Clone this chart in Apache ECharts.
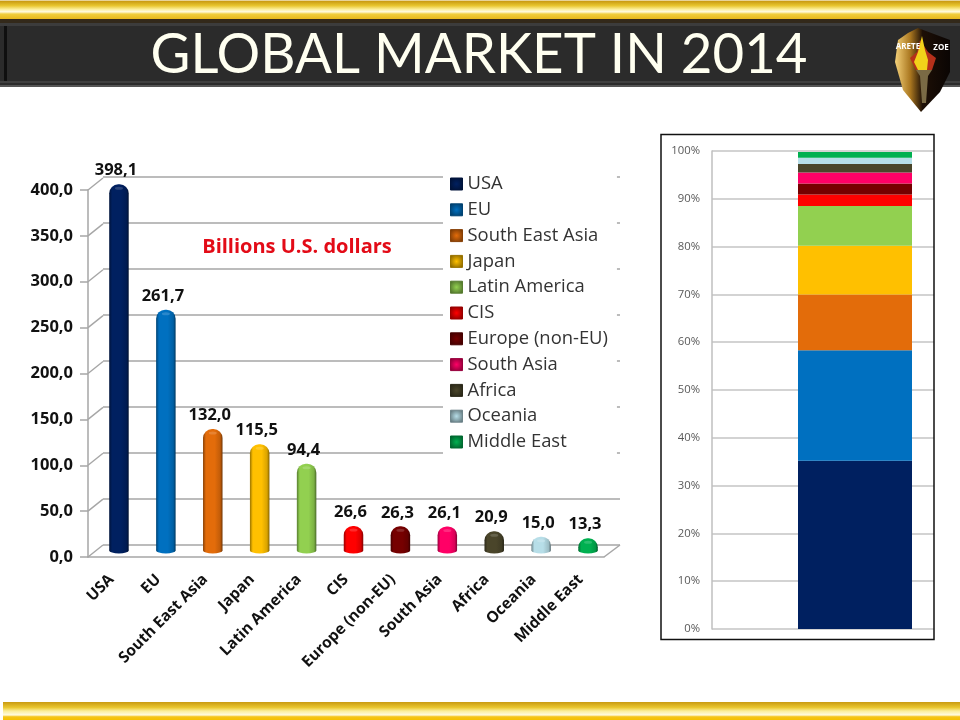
<!DOCTYPE html>
<html><head><meta charset="utf-8">
<style>html,body{margin:0;padding:0;background:#fff}#c{width:960px;height:720px}</style>
<script src="https://cdn.jsdelivr.net/npm/echarts@6/dist/echarts.min.js"></script>
</head><body><div id="c"></div>
<script>
const categories = ['USA','EU','South East Asia','Japan','Latin America','CIS','Europe (non-EU)','South Asia','Africa','Oceania','Middle East'];
const marketValues = [398.1,261.7,132.0,115.5,94.4,26.6,26.3,26.1,20.9,15.0,13.3];
const sharePercent = [35.2,23.1,11.7,10.2,8.3,2.4,2.3,2.3,1.8,1.3,1.2];
const colors = ['#002060','#0070C0','#E36C0A','#FFC000','#92D050','#FF0000','#760000','#FF0066','#4A452A','#B7DEE8','#00B050'];
const wallTicks = [0,50,100,150,200,250,300,350,400];
const titleText = 'GLOBAL MARKET IN 2014';
const unitText = 'Billions U.S. dollars';

const FONT = '"Open Sans",sans-serif';
function shade(hex,k){
  const n=parseInt(hex.slice(1),16);
  const f=c=>Math.round(k<1?c*k:c+(255-c)*(k-1));
  return 'rgb('+f(n>>16&255)+','+f(n>>8&255)+','+f(n&255)+')';
}
function lin(stops,vertical){
  return new echarts.graphic.LinearGradient(0,0,vertical?0:1,vertical?1:0,
    stops.map(s=>({offset:s[0],color:s[1]})));
}
const barFill=i=>lin([[0,shade(colors[i],0.6)],[0.15,colors[i]],[0.6,colors[i]],[0.88,shade(colors[i],0.85)],[1,shade(colors[i],0.5)]]);
const comma=v=>v.toFixed(1).replace('.',',');
const chart=echarts.init(document.getElementById('c'),null,{renderer:'canvas'});

const goldTop=lin([[0,'#fff'],[0.06,'#c99a12'],[0.3,'#e9c62f'],[0.5,'#fdf0a0'],[0.62,'#fffbe0'],[0.74,'#f0cf3c'],[1,'#e8b81c']],true);
const goldBot=lin([[0,'#c99a12'],[0.3,'#e9c62f'],[0.5,'#fbee9a'],[0.72,'#fffbe0'],[0.82,'#f5c51a'],[1,'#f5c000']],true);
const shieldFill=lin([[0,'#f5d27a'],[0.28,'#a9761f'],[0.5,'#1d0f06'],[1,'#0a0503']]);

chart.setOption({
  animation:false,
  backgroundColor:'#fff',
  legend:{
    left:443,top:172,orient:'vertical',
    data:categories.map((n,i)=>({name:n,itemStyle:{
      color:new echarts.graphic.RadialGradient(0.5,0.5,0.7,[{offset:0,color:colors[i]},{offset:1,color:shade(colors[i],0.45)}]),
      borderColor:shade(colors[i],0.6),borderWidth:1}})),
    icon:'rect',itemWidth:12,itemHeight:12,itemGap:7.8,
    backgroundColor:'#fff',padding:[3,9,3,7],
    textStyle:{fontFamily:FONT,fontSize:18.4,color:'#333',padding:[0,0,0,0],lineHeight:17},
    selectedMode:false
  },
  grid:[
    {left:103,top:177,width:517,height:368,outerBoundsMode:'none'},
    {left:95.5,top:182.5,width:516,height:368,outerBoundsMode:'none'},
    {left:88,top:190,width:516,height:367,outerBoundsMode:'none'},
    {left:712,top:151,width:286,height:478,outerBoundsMode:'none'}
  ],
  xAxis:[
    {gridIndex:0,type:'category',data:categories,show:false},
    {gridIndex:1,type:'category',data:categories,show:false},
    {gridIndex:2,type:'category',data:categories,
     axisLine:{lineStyle:{color:'#a6a6a6',width:1.5}},
     axisTick:{length:5,lineStyle:{color:'#a6a6a6'},alignWithLabel:false},
     axisLabel:{rotate:45,interval:0,margin:20,fontFamily:FONT,fontWeight:'bold',fontSize:15.5,color:'#111'}},
    {gridIndex:3,type:'category',data:['2014'],axisLine:{show:false},axisTick:{show:false},axisLabel:{show:false}}
  ],
  yAxis:[
    {gridIndex:0,type:'value',min:0,max:400,interval:50,axisLine:{show:false},axisTick:{show:false},axisLabel:{show:false},
     splitLine:{lineStyle:{color:'#a6a6a6',width:1.5}}},
    {gridIndex:1,type:'value',min:0,max:400,show:false,splitLine:{show:false}},
    {gridIndex:2,type:'value',min:0,max:400,interval:50,splitLine:{show:false},
     axisLine:{show:true,lineStyle:{color:'#a6a6a6',width:1.5}},
     axisTick:{show:true,length:8,lineStyle:{color:'#a6a6a6',width:1.5}},
     axisLabel:{margin:15,formatter:v=>comma(v),fontFamily:FONT,fontWeight:'bold',fontSize:16.5,color:'#111'}},
    {gridIndex:3,type:'value',min:0,max:100,interval:10,
     axisLine:{show:true,lineStyle:{color:'#bfbfbf',width:1.5}},
     axisTick:{show:false},
     axisLabel:{margin:12,formatter:'{value}%',fontFamily:FONT,fontSize:11.3,color:'#595959'},
     splitLine:{lineStyle:{color:'#c4c4c4',width:1.5}}}
  ],
  series:[
    {type:'custom',name:'wall',xAxisIndex:2,yAxisIndex:2,clip:false,silent:true,z:1,
     data:wallTicks.map(v=>[0,v]),
     renderItem:(p,api)=>{
       const y=api.coord([0,api.value(1)])[1],x=p.coordSys.x;
       const shape=[{type:'line',shape:{x1:x,y1:y,x2:x+15,y2:y-12},style:{stroke:'#a6a6a6',lineWidth:1.5}}];
       if(api.value(1)===0){const r=x+p.coordSys.width;
         shape.push({type:'line',shape:{x1:r,y1:y,x2:r+16,y2:y-12},style:{stroke:'#a6a6a6',lineWidth:1.5}});}
       return {type:'group',children:shape};
     }},
    {type:'scatter',name:'base',xAxisIndex:1,yAxisIndex:1,silent:true,z:2,symbol:'circle',symbolSize:[19.5,6],clip:false,
     data:marketValues.map((v,i)=>({value:0,itemStyle:{color:barFill(i),opacity:1}}))},
    {type:'bar',name:unitText,xAxisIndex:1,yAxisIndex:1,barWidth:19.5,z:3,
     data:marketValues.map((v,i)=>({value:v,itemStyle:{color:barFill(i),borderRadius:[9,9,0,0]}})),
     label:{show:true,position:'top',distance:5,offset:[-3,0],formatter:p=>comma(p.value),fontFamily:FONT,fontWeight:'bold',fontSize:16.5,color:'#111'}},
    {type:'scatter',name:'cap',xAxisIndex:1,yAxisIndex:1,silent:true,z:4,symbol:'circle',symbolSize:[8,3],symbolOffset:[0,4],
     data:marketValues.map((v,i)=>({value:v,itemStyle:{color:shade(colors[i],1.3),opacity:0.55}}))},
    ...categories.map((n,i)=>({
      type:'bar',name:n,stack:'share',xAxisIndex:3,yAxisIndex:3,barWidth:114,z:3,
      data:[sharePercent[i]],itemStyle:{color:colors[i]}
    }))
  ],
  graphic:[
    {type:'rect',z:0,shape:{x:0,y:0,width:960,height:19},style:{fill:goldTop}},
    {type:'rect',z:0,shape:{x:0,y:19,width:960,height:68},style:{fill:'#2b2b2b'}},
    {type:'rect',z:0,shape:{x:0,y:19,width:960,height:4},style:{fill:'#33291a'}},
    {type:'rect',z:0,shape:{x:0,y:23,width:960,height:3},style:{fill:'#3c3c3c'}},
    {type:'rect',z:0,shape:{x:4,y:26,width:3,height:56},style:{fill:'#0f0f0f'}},
    {type:'rect',z:0,shape:{x:0,y:81,width:960,height:2},style:{fill:'#3f3f3f'}},
    {type:'rect',z:0,shape:{x:0,y:85,width:960,height:2},style:{fill:'#555'}},
    {type:'text',z:5,x:479,y:55,scaleX:0.975,style:{text:titleText,fontFamily:'Lato,sans-serif',fontSize:56,fill:'#fffff0',align:'center',verticalAlign:'middle',
      shadowColor:'rgba(0,0,0,0.7)',shadowBlur:3}},
    {type:'rect',z:0,shape:{x:3,y:702,width:957,height:18},style:{fill:goldBot}},
    {type:'polygon',z:6,shape:{points:[[898,40],[908,33],[918,28],[950,40],[950,72],[940,92],[921,112],[903,90],[895,62]]},style:{fill:shieldFill}},
    {type:'polygon',z:7,shape:{points:[[916,70],[910,58],[917,52],[920,40],[928,52],[936,58],[932,70]]},style:{fill:'#b5301a'}},
    {type:'polygon',z:7,shape:{points:[[918,70],[914,62],[918,52],[922,36],[925,50],[928,60],[927,70]]},style:{fill:'#f2d21a'}},
    {type:'polygon',z:7,shape:{points:[[916,70],[932,70],[928,76],[926,103],[922,103],[920,76]]},style:{fill:'#7a6a45'}},
    {type:'text',z:8,x:908,y:47,style:{text:'ARETE',fontFamily:FONT,fontWeight:'bold',fontSize:8,fill:'#fff',align:'center',verticalAlign:'middle'}},
    {type:'text',z:8,x:941,y:48,style:{text:'ZOE',fontFamily:FONT,fontWeight:'bold',fontSize:8,fill:'#fff',align:'center',verticalAlign:'middle'}},
    {type:'text',z:20,x:297,y:247,style:{text:unitText,fontFamily:FONT,fontWeight:'bold',fontSize:20,fill:'#e30b17',align:'center',verticalAlign:'middle'}},
    {type:'rect',z:30,shape:{x:934,y:125,width:26,height:530},style:{fill:'#fff'}},
    {type:'rect',z:31,shape:{x:661,y:134.5,width:273,height:505},style:{fill:'none',stroke:'#111',lineWidth:1.5}}
  ]
});
</script></body></html>
